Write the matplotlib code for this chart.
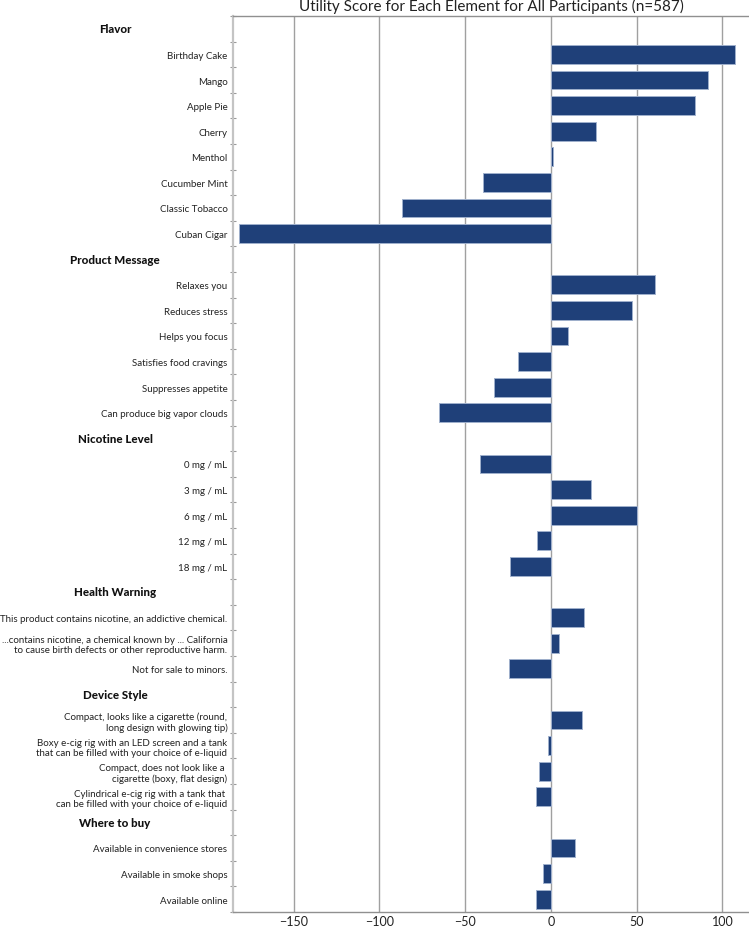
import matplotlib
matplotlib.use("Agg")
import matplotlib.pyplot as plt
import matplotlib.transforms as mtransforms

plt.rcParams['font.family'] = ['Lato', 'DejaVu Sans']
plt.rcParams['axes.unicode_minus'] = True

groups = ["Flavor", "Product Message", "Nicotine Level", "Health Warning", "Device Style", "Where to buy"]
flavor_labels = ["Birthday Cake", "Mango", "Apple Pie", "Cherry", "Menthol", "Cucumber Mint", "Classic Tobacco", "Cuban Cigar"]
flavor_values = [107.2, 91.5, 83.9, 26.3, 1.0, -39.5, -86.6, -181.6]
message_labels = ["Relaxes you", "Reduces stress", "Helps you focus", "Satisfies food cravings", "Suppresses appetite", "Can produce big vapor clouds"]
message_values = [60.9, 47.1, 9.9, -19.1, -33.4, -65.3]
nicotine_labels = ["0 mg / mL", "3 mg / mL", "6 mg / mL", "12 mg / mL", "18 mg / mL"]
nicotine_values = [-41.6, 23.5, 50.0, -8.2, -23.9]
warning_labels = ["This product contains nicotine, an addictive chemical.",
                  "...contains nicotine, a chemical known by ... California\nto cause birth defects or other reproductive harm.",
                  "Not for sale to minors."]
warning_values = [19.5, 4.7, -24.3]
device_labels = ["Compact, looks like a cigarette (round,\nlong design with glowing tip)",
                 "Boxy e-cig rig with an LED screen and a tank\nthat can be filled with your choice of e-liquid",
                 "Compact, does not look like a \ncigarette (boxy, flat design)",
                 "Cylindrical e-cig rig with a tank that \ncan be filled with your choice of e-liquid"]
device_values = [17.9, -1.9, -7.2, -8.6]
buy_labels = ["Available in convenience stores", "Available in smoke shops", "Available online"]
buy_values = [13.8, -4.5, -8.9]
xticks = [-150, -100, -50, 0, 50, 100]
title = "Utility Score for Each Element for All Participants (n=587)"

sections = [(groups[0], flavor_labels, flavor_values),
            (groups[1], message_labels, message_values),
            (groups[2], nicotine_labels, nicotine_values),
            (groups[3], warning_labels, warning_values),
            (groups[4], device_labels, device_values),
            (groups[5], buy_labels, buy_values)]

W, H = 749, 929
fig = plt.figure(figsize=(W / 100, H / 100), dpi=100)
ax = fig.add_axes([233 / W, 16 / H, 1 - 233 / W, (913 - 17) / H])

row_pos, row_lab, bar_pos, bar_val, head_pos, head_lab = [], [], [], [], [], []
r = 0
for g, labs, vals in sections:
    head_pos.append(r); head_lab.append(g)
    row_pos.append(r); row_lab.append("")
    r += 1
    for l, v in zip(labs, vals):
        row_pos.append(r); row_lab.append(l)
        bar_pos.append(r); bar_val.append(v)
        r += 1
n = r

ax.barh(bar_pos, bar_val, height=0.74, color='#1f4079', edgecolor='#9fb0cc', linewidth=0.7, zorder=3)

ax.set_ylim(n - 0.5, -0.5)
ax.set_xlim(-185.3, 115.5)
ax.set_yticks(row_pos)
ax.set_yticklabels(row_lab, fontsize=7, linespacing=1.15)
ax.set_yticks([i - 0.5 for i in range(n + 1)], minor=True)
ax.tick_params(axis='y', which='major', length=0, pad=4, colors='#222222')
ax.tick_params(axis='y', which='minor', length=5, direction='inout', color='#999999', width=0.8)
ax.set_xticks(xticks)
ax.set_xticklabels([str(t).replace('-', '\u2212') for t in xticks], fontsize=9, color='#222222')
ax.tick_params(axis='x', length=0, pad=2.5)

ax.grid(axis='x', color='#a0a0a0', linewidth=1.0, zorder=0)
ax.set_axisbelow(True)
ax.spines['right'].set_visible(False)
ax.spines['left'].set_color('#c4c4c4'); ax.spines['left'].set_linewidth(1.6)
ax.spines['top'].set_color('#909090'); ax.spines['top'].set_linewidth(1.0)
ax.spines['bottom'].set_color('#909090'); ax.spines['bottom'].set_linewidth(1.0)

trans = mtransforms.blended_transform_factory(fig.transFigure, ax.transData)
for p, g in zip(head_pos, head_lab):
    fig.text(115 / W, p, g, transform=trans, ha='center', va='center', fontsize=8.3, fontweight='black', color='#111111')

fig.text(491 / W, 1 - 11 / H, title, ha='center', va='baseline', fontsize=11, color='#222222')

fig.savefig("out.png", dpi=100)
